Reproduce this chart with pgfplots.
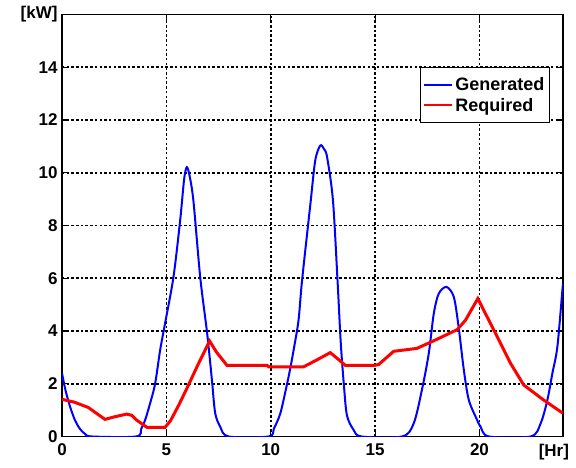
\documentclass[border=0pt]{standalone}
\usepackage{pgfplots}
\pgfplotsset{compat=1.18}
\usepackage{fontspec}
\setmainfont{Liberation Sans}

% generated power
\pgfplotstableread{
x y
0 2.4
0.1 2.0
0.2 1.65
0.4 1.1
0.62 0.62
0.85 0.3
1.1 0.1
1.45 0
3.55 0
3.8 0.3
3.98 0.62
4.2 1.2
4.46 2.0
4.7 3.27
4.94 4.3
5.34 6.05
5.66 8.19
5.85 9.75
5.98 10.21
6.12 9.85
6.3 8.9
6.62 6.05
6.94 4.0
7.1 2.8
7.2 1.99
7.34 0.88
7.58 0.37
7.98 0
9.9 0
10.15 0.3
10.46 0.88
10.78 1.99
10.94 2.6
11.1 3.3
11.33 4.4
11.5 5.92
11.9 8.82
12.13 10.46
12.37 11.03
12.55 10.9
12.7 10.59
12.98 8.95
13.2 5.9
13.35 3.6
13.5 1.99
13.65 0.8
13.97 0.25
14.35 0
16.29 0
16.85 0.5
17.25 1.8
17.57 3.15
17.81 4.66
18.05 5.42
18.42 5.67
18.77 5.29
19.0 4.15
19.25 2.52
19.49 1.38
19.89 0.62
20.05 0.37
20.45 0
22.45 0
22.93 0.5
23.25 1.38
23.49 2.39
23.73 3.4
23.97 5.54
24 5.8
}\gen

% required power
\pgfplotstableread{
x y
0 1.41
0.6 1.3
1.26 1.1
1.7 0.85
2.06 0.65
2.54 0.75
3.1 0.85
3.35 0.8
3.58 0.62
4.06 0.35
4.94 0.35
5.2 0.6
5.6 1.2
5.98 1.82
6.5 2.7
7.07 3.62
7.4 3.2
7.9 2.7
9.82 2.7
9.9 2.64
11.57 2.64
12.2 2.9
12.85 3.18
13.2 2.95
13.57 2.7
15.0 2.7
15.17 2.73
15.89 3.23
17.0 3.34
17.81 3.63
18.93 4.05
19.33 4.41
19.92 5.23
20.85 3.78
21.49 2.77
22.12 1.95
23.08 1.38
24 0.88
}\req

\begin{document}
\begin{tikzpicture}
\useasboundingbox (-62pt,-31.5pt) rectangle (514pt,436.5pt);
\begin{axis}[
    scale only axis,
    width=501pt, height=422pt,
    xmin=0, xmax=24, ymin=0, ymax=16,
    xtick={0,5,10,15,20,24},
    xticklabels={0,5,10,15,20,{\hbox to 0pt{\hss[Hr]\kern-6pt}}},
    ytick={0,2,4,6,8,10,12,14,16},
    yticklabels={0,2,4,6,8,10,12,14,{[kW]}},
    /pgf/number format/assume math mode=true,
    ticklabel style={font=\fontsize{17}{20}\selectfont\bfseries},
    xticklabel style={yshift=-4pt},
    yticklabel style={xshift=-1pt},
    tick align=inside,
    major tick length=6pt,
    tick style={black, line width=1.2pt},
    axis line style={black, line width=1.8pt},
    grid=major,
    major grid style={black, line width=1.6pt, dash pattern=on 2.5pt off 2.2pt},
    legend style={at={(rel axis cs:0.974,0.8756)}, anchor=north east,
        draw=black, line width=1.2pt, fill=white,
        font=\fontsize{18}{21}\selectfont\bfseries, inner xsep=3pt, inner ysep=8pt,
        row sep=2pt},
    legend cell align=left,
    legend image code/.code={\draw[#1, line width=2pt] (0pt,0pt) -- (28pt,0pt);},
]
\addplot[blue, line width=2pt, smooth] table[x=x, y=y] {\gen};
\addlegendentry{Generated}
\addplot[red, line width=3pt] table[x=x, y=y] {\req};
\addlegendentry{Required}
\end{axis}
\end{tikzpicture}
\end{document}
